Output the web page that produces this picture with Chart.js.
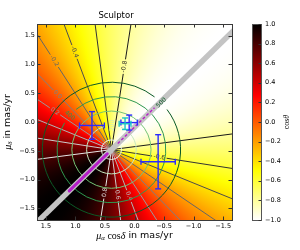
<!DOCTYPE html>
<html>
<head>
<meta charset="utf-8">
<script src="https://cdn.jsdelivr.net/npm/chart.js@4.4.1/dist/chart.umd.min.js"></script>
<style>
    body { margin: 0; background: #fff; }
    canvas { display: block; }
</style>
</head>
<body>
<canvas id="chart" width="300" height="250"></canvas>
<script>
// --- Data ---
const title = 'Sculptor';
const xRange = [-1.65, 1.65];
const yRange = [-1.7, 1.7];
const xTicks = [1.5, 1.0, 0.5, 0.0, -0.5, -1.0, -1.5];
const yTicks = [-1.5, -1.0, -0.5, 0.0, 0.5, 1.0, 1.5];
const cbTicks = [-1.0, -0.8, -0.6, -0.4, -0.2, 0.0, 0.2, 0.4, 0.6, 0.8, 1.0];

// cos(theta) field: centre point and the direction where cos(theta) = 1
const fieldCentre = [0.39, -0.48];
const fieldAxis = [1, -1];
const cosLevels = [-0.8, -0.6, -0.4, -0.2, 0.0, 0.2, 0.4, 0.6, 0.8];

// velocity circles round the centre (radius in mas/yr)
const circleLevels = [100, 200, 300, 400, 500];
const circleRadii = [0.17, 0.42, 0.67, 0.92, 1.17];

// measurements with error bars
const crossX = [0.72, 0.16, 0.09, -0.40];
const crossY = [-0.06, -0.03, -0.01, -0.69];
const crossErrX = [0.21, 0.10, 0.14, 0.29];
const crossErrY = [0.24, 0.10, 0.13, 0.47];

// magenta ranges along the axis (distance from the centre, mas/yr)
const magentaSolid = [0.10, 1.01];
const magentaDashed = [-0.15, -1.03];

// --- Styles / label placement ---
const crossColors = ['#2b2bff', '#18c4c4', '#2b2bff', '#2b2bff'];
const circleColors = ['#eef8ea', '#c7e9c0', '#74c476', '#2f984f', '#0b5a26'];
const rayLabels = [
    { level: -0.8, side: 1, dist: 1.44 },
    { level: -0.6, side: -1, dist: 0.83 },
    { level: -0.4, side: 1, dist: 1.79 },
    { level: -0.2, side: 1, dist: 1.81 },
    { level: 0.0, side: 1, dist: 1.32 },
    { level: 0.2, side: 1, dist: 1.17 },
    { level: 0.4, side: -1, dist: 0.85 },
    { level: 0.6, side: -1, dist: 0.78 },
    { level: 0.8, side: -1, dist: 0.74 }
];
const circleLabels = [
    { level: 200, angle: -88 },
    { level: 400, angle: -140 },
    { level: 500, angle: -44 }
];

const SANS = '"DejaVu Sans", sans-serif';
const SERIF = '"Liberation Serif", serif';
const fmt = (v) => (v < 0 ? '\u2212' : '') + Math.abs(v).toFixed(1);

// matplotlib 'hot' colormap, used reversed
const hot = (x) => {
    const cl = (v) => Math.round(255 * Math.min(1, Math.max(0, v)));
    return `rgb(${cl(x / 0.365079)},${cl((x - 0.365079) / 0.380953)},${cl((x - 0.746032) / 0.253968)})`;
};
const cosColor = (c) => hot(1 - (c + 1) / 2);
const grayFor = (c) => {
    const v = Math.round(255 * (c + 1) / 2);
    return `rgb(${v},${v},${v})`;
};

// draws a run of text pieces centred on (x, y), optionally rotated
const drawRich = (ctx, parts, x, y, rot) => {
    ctx.save();
    ctx.translate(x, y);
    ctx.rotate(rot || 0);
    let total = 0;
    parts.forEach(p => { ctx.font = p.font; total += ctx.measureText(p.text).width; });
    let pos = -total / 2;
    ctx.textBaseline = 'middle';
    ctx.textAlign = 'left';
    ctx.fillStyle = '#000';
    parts.forEach(p => {
        ctx.font = p.font;
        ctx.fillText(p.text, pos, p.dy || 0);
        pos += ctx.measureText(p.text).width;
    });
    ctx.restore();
};

const fieldPlugin = {
    id: 'field',
    beforeDatasetsDraw(chart) {
        const { ctx, chartArea: a, scales: { x: xs, y: ys } } = chart;
        const px = (x, y) => [xs.getPixelForValue(x), ys.getPixelForValue(y)];
        const [cx, cy] = px(fieldCentre[0], fieldCentre[1]);
        const [ax, ay] = px(fieldCentre[0] + fieldAxis[0], fieldCentre[1] + fieldAxis[1]);
        const phi0 = Math.atan2(ay - cy, ax - cx);
        const unitX = Math.abs(xs.getPixelForValue(1) - xs.getPixelForValue(0));
        const unitY = Math.abs(ys.getPixelForValue(1) - ys.getPixelForValue(0));
        const unit = (unitX + unitY) / 2;

        ctx.save();
        ctx.beginPath();
        ctx.rect(a.left, a.top, a.right - a.left, a.bottom - a.top);
        ctx.clip();

        // background colour map
        const grad = ctx.createConicGradient(phi0, cx, cy);
        for (let i = 0; i <= 360; i += 2) {
            grad.addColorStop(i / 360, cosColor(Math.cos(i * Math.PI / 180)));
        }
        ctx.fillStyle = grad;
        ctx.fillRect(a.left, a.top, a.right - a.left, a.bottom - a.top);

        // cos(theta) contours: a pair of rays per level
        ctx.lineWidth = 1;
        ctx.font = `6px ${SANS}`;
        cosLevels.forEach(c => {
            [1, -1].forEach(side => {
                const ang = phi0 + side * Math.acos(c);
                const dx = Math.cos(ang), dy = Math.sin(ang);
                const lab = rayLabels.find(l => l.level === c && l.side === side);
                ctx.strokeStyle = grayFor(c);
                ctx.fillStyle = grayFor(c);
                ctx.beginPath();
                if (lab) {
                    const txt = c.toFixed(1);
                    const d = lab.dist * unit;
                    const gap = ctx.measureText(txt).width / 2 + 1.5;
                    ctx.moveTo(cx, cy);
                    ctx.lineTo(cx + dx * (d - gap), cy + dy * (d - gap));
                    ctx.moveTo(cx + dx * (d + gap), cy + dy * (d + gap));
                    ctx.lineTo(cx + dx * 400, cy + dy * 400);
                    ctx.stroke();
                    let deg = ang * 180 / Math.PI;
                    deg = (((deg + 90) % 180) + 180) % 180 - 90;
                    ctx.save();
                    ctx.translate(cx + dx * d, cy + dy * d);
                    ctx.rotate(deg * Math.PI / 180);
                    ctx.textAlign = 'center';
                    ctx.textBaseline = 'middle';
                    ctx.fillText(txt, 0, 0);
                    ctx.restore();
                } else {
                    ctx.moveTo(cx, cy);
                    ctx.lineTo(cx + dx * 400, cy + dy * 400);
                    ctx.stroke();
                }
            });
        });

        // velocity circles
        circleLevels.forEach((lv, i) => {
            const rx = circleRadii[i] * unitX, ry = circleRadii[i] * unitY;
            const lab = circleLabels.find(l => l.level === lv);
            ctx.strokeStyle = circleColors[i];
            ctx.lineWidth = 1;
            ctx.beginPath();
            if (lab) {
                const la = lab.angle * Math.PI / 180;
                const gap = 9 / rx;
                ctx.ellipse(cx, cy, rx, ry, 0, la + gap, la - gap + 2 * Math.PI);
            } else {
                ctx.ellipse(cx, cy, rx, ry, 0, 0, 2 * Math.PI);
            }
            ctx.stroke();
        });

        // axis band and magenta ranges
        const along = (t) => px(fieldCentre[0] + t * fieldAxis[0] / Math.SQRT2,
                                fieldCentre[1] + t * fieldAxis[1] / Math.SQRT2);
        const seg = (t0, t1) => {
            const [x0, y0] = along(t0), [x1, y1] = along(t1);
            ctx.beginPath();
            ctx.moveTo(x0, y0);
            ctx.lineTo(x1, y1);
            ctx.stroke();
        };
        ctx.lineCap = 'butt';
        ctx.strokeStyle = '#c4c4c4';
        ctx.lineWidth = 5.5;
        seg(-6, 6);
        ctx.strokeStyle = '#b51fc9';
        ctx.lineCap = 'round';
        ctx.lineWidth = 3;
        seg(magentaSolid[0], magentaSolid[1]);
        ctx.lineWidth = 1.4;
        ctx.lineCap = 'butt';
        ctx.setLineDash([3, 2]);
        seg(magentaDashed[0], magentaDashed[1]);
        ctx.setLineDash([]);

        // circle labels
        ctx.font = `6px ${SANS}`;
        circleLabels.forEach(l => {
            const i = circleLevels.indexOf(l.level);
            const la = l.angle * Math.PI / 180;
            const lx = cx + Math.cos(la) * circleRadii[i] * unitX;
            const ly = cy + Math.sin(la) * circleRadii[i] * unitY;
            let deg = (((l.angle + 90) % 180) + 180) % 180 - 90;
            ctx.save();
            ctx.translate(lx, ly);
            ctx.rotate(deg * Math.PI / 180);
            ctx.fillStyle = circleColors[i];
            ctx.textAlign = 'center';
            ctx.textBaseline = 'middle';
            ctx.fillText(String(l.level), 0, 0);
            ctx.restore();
        });
        ctx.restore();
    },
    afterDraw(chart) {
        const { ctx, chartArea: a, scales: { x: xs, y: ys } } = chart;
        ctx.save();
        // inward ticks on all four sides
        ctx.strokeStyle = '#333';
        ctx.lineWidth = 1;
        ctx.beginPath();
        xTicks.forEach(v => {
            const p = Math.round(xs.getPixelForValue(v)) + 0.5;
            ctx.moveTo(p, a.bottom); ctx.lineTo(p, a.bottom - 3.5);
            ctx.moveTo(p, a.top); ctx.lineTo(p, a.top + 3.5);
        });
        yTicks.forEach(v => {
            const p = Math.round(ys.getPixelForValue(v)) + 0.5;
            ctx.moveTo(a.left, p); ctx.lineTo(a.left + 3.5, p);
            ctx.moveTo(a.right, p); ctx.lineTo(a.right - 3.5, p);
        });
        ctx.stroke();
        ctx.strokeStyle = '#3a3a3a';
        ctx.strokeRect(Math.round(a.left) + 0.5, Math.round(a.top) + 0.5,
                       Math.round(a.right - a.left), Math.round(a.bottom - a.top));

        // axis titles (math style)
        drawRich(ctx, [
            { text: '\u03bc', font: `italic 10px ${SERIF}` },
            { text: '\u03b1', font: `italic 7px ${SERIF}`, dy: 2.5 },
            { text: ' cos', font: `10px ${SERIF}` },
            { text: '\u03b4', font: `italic 10px ${SERIF}` },
            { text: ' in mas/yr', font: `9.5px ${SANS}` }
        ], (a.left + a.right) / 2, 236, 0);
        drawRich(ctx, [
            { text: '\u03bc', font: `italic 10px ${SERIF}` },
            { text: '\u03b4', font: `italic 7px ${SERIF}`, dy: 2.5 },
            { text: ' in mas/yr', font: `9.5px ${SANS}` }
        ], 8, (a.top + a.bottom) / 2, -Math.PI / 2);

        // colour bar
        const bx = 252, bw = 9, top = a.top, bot = a.bottom;
        const g = ctx.createLinearGradient(0, bot, 0, top);
        for (let i = 0; i <= 100; i++) g.addColorStop(i / 100, cosColor(-1 + 2 * i / 100));
        ctx.fillStyle = g;
        ctx.fillRect(bx, top, bw, bot - top);
        ctx.strokeStyle = '#555';
        ctx.strokeRect(bx + 0.5, Math.round(top) + 0.5, bw, Math.round(bot - top));
        ctx.font = `6.5px ${SANS}`;
        ctx.fillStyle = '#000';
        ctx.textAlign = 'left';
        ctx.textBaseline = 'middle';
        ctx.strokeStyle = '#333';
        cbTicks.forEach(v => {
            const yy = bot - (v + 1) / 2 * (bot - top);
            ctx.beginPath();
            ctx.moveTo(bx + bw, Math.round(yy) + 0.5);
            ctx.lineTo(bx + bw - 2.5, Math.round(yy) + 0.5);
            ctx.stroke();
            ctx.fillText(fmt(v), bx + bw + 4, yy);
        });
        drawRich(ctx, [
            { text: 'cos', font: `8px ${SERIF}` },
            { text: '\u03b8', font: `italic 8px ${SERIF}` }
        ], 287, (top + bot) / 2, -Math.PI / 2);
        ctx.restore();
    }
};

// --- Error-bar datasets built from the arrays ---
const datasets = [];
crossX.forEach((x, i) => {
    const y = crossY[i];
    const common = {
        showLine: true,
        borderColor: crossColors[i],
        borderWidth: 1.4,
        pointStyle: 'line',
        pointRadius: 3,
        pointBorderColor: crossColors[i],
        pointBorderWidth: 1.4
    };
    datasets.push({ ...common, data: [{ x, y: y - crossErrY[i] }, { x, y: y + crossErrY[i] }], pointRotation: 0 });
    datasets.push({ ...common, data: [{ x: x - crossErrX[i], y }, { x: x + crossErrX[i], y }], pointRotation: 90 });
});

new Chart(document.getElementById('chart'), {
    type: 'scatter',
    data: { datasets },
    options: {
        responsive: false,
        animation: false,
        events: [],
        layout: { padding: { left: 0, right: 68, top: 0, bottom: 0 } },
        plugins: {
            legend: { display: false },
            tooltip: { enabled: false },
            title: {
                display: true,
                text: title,
                color: '#000',
                font: { family: SANS, size: 8.5, weight: 'normal' },
                padding: { top: 11, bottom: 2.8 }
            }
        },
        scales: {
            x: {
                type: 'linear',
                reverse: true,
                min: xRange[0],
                max: xRange[1],
                afterBuildTicks: (s) => { s.ticks = xTicks.map(v => ({ value: v })); },
                afterFit: (s) => { s.height = 30; },
                grid: { display: false, drawTicks: false },
                border: { display: false },
                ticks: { color: '#000', padding: 2, maxRotation: 0, font: { family: SANS, size: 6.5 }, callback: fmt }
            },
            y: {
                type: 'linear',
                min: yRange[0],
                max: yRange[1],
                afterBuildTicks: (s) => { s.ticks = yTicks.map(v => ({ value: v })); },
                afterFit: (s) => { s.width = 37; },
                grid: { display: false, drawTicks: false },
                border: { display: false },
                ticks: { color: '#000', padding: 2, font: { family: SANS, size: 6.5 }, callback: fmt }
            }
        }
    },
    plugins: [fieldPlugin]
});
</script>
</body>
</html>
